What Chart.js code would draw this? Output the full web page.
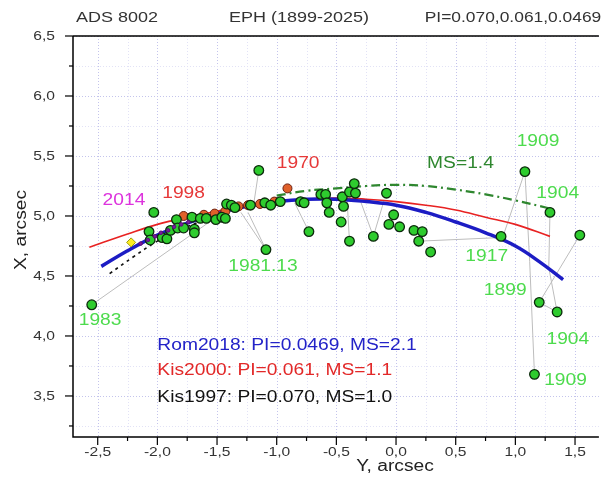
<!DOCTYPE html>
<html>
<head>
<meta charset="utf-8">
<script src="https://cdn.jsdelivr.net/npm/chart.js@4.4.1/dist/chart.umd.min.js"></script>
<style>
  html, body { margin: 0; padding: 0; background: #fff; }
</style>
</head>
<body>
<canvas id="orbitChart" width="605" height="483"></canvas>
<script>
// observed positions (Y, X in arcsec)
const obsY = [-2.55, -2.03, -2.07, -2.06, -1.96, -1.92, -1.89, -1.84, -1.83, -1.78, -1.71, -1.69, -1.69, -1.64,
  -1.59, -1.51, -1.46, -1.42, -1.38, -1.43, -1.35, -1.22, -1.10, -1.05, -0.97, -0.80, -0.77, -1.15, -1.09,
  -0.73, -0.63, -0.59, -0.58, -0.56, -0.45, -0.44, -0.39, -0.35, -0.34, -0.46, -0.39, -0.19, -0.08, -0.02,
  -0.06, 0.03, 0.15, 0.22, 0.19, 0.29, 0.88, 1.08, 1.29, 1.54, 1.20, 1.35, 1.16];
const obsX = [4.26, 5.03, 4.87, 4.80, 4.82, 4.81, 4.88, 4.97, 4.90, 4.90, 4.99, 4.89, 4.86, 4.98,
  4.98, 4.97, 4.99, 5.10, 5.09, 4.98, 5.07, 5.09, 5.11, 5.09, 5.12, 5.12, 5.11, 5.38, 4.72,
  4.87, 5.18, 5.18, 5.11, 5.03, 5.16, 5.08, 5.20, 5.27, 5.19, 4.95, 4.79, 4.83, 5.19, 5.01,
  4.93, 4.91, 4.88, 4.87, 4.79, 4.70, 4.83, 5.37, 5.03, 4.84, 4.28, 4.20, 3.68];

// red-marked measurements
const redY = [-1.78, -0.91, -1.61, -1.52, -1.43, -1.32, -1.24, -1.14, -1.02];
const redX = [5.00, 5.23, 5.01, 5.02, 5.04, 5.08, 5.09, 5.10, 5.12];

// small speckle marks and the 2014 point
const purpleY = [-2.14, -2.08, -2.02, -1.97, -1.91, -1.86, -1.80, -1.74];
const purpleX = [4.77, 4.80, 4.83, 4.86, 4.88, 4.91, 4.93, 4.95];
const yellowY = [-2.22];
const yellowX = [4.78];

// ephemeris curves
const romY = [-2.47, -2.25, -2.0, -1.75, -1.5, -1.25, -1.0, -0.75, -0.5, -0.25, 0, 0.25, 0.5, 0.75, 1.0, 1.2, 1.4];
const romX = [4.58, 4.71, 4.84, 4.94, 5.02, 5.08, 5.12, 5.14, 5.14, 5.12, 5.09, 5.03, 4.95, 4.86, 4.75, 4.62, 4.47];
const kis2000Y = [-2.57, -2.25, -2.0, -1.75, -1.5, -1.25, -1.0, -0.75, -0.5, -0.25, 0, 0.25, 0.5, 0.75, 1.0, 1.29];
const kis2000X = [4.74, 4.85, 4.93, 4.99, 5.04, 5.09, 5.12, 5.14, 5.15, 5.14, 5.12, 5.09, 5.05, 4.99, 4.93, 4.83];
const kis1997Y = [-2.40, -2.2, -2.0, -1.8, -1.6];
const kis1997X = [4.52, 4.66, 4.79, 4.89, 4.97];
const ms14Y = [-1.0, -0.75, -0.5, -0.25, 0, 0.25, 0.5, 0.75, 1.0, 1.3];
const ms14X = [5.17, 5.21, 5.23, 5.25, 5.26, 5.25, 5.22, 5.18, 5.13, 5.06];

// O-C connectors: from (y1,x1) to (y2,x2)
const linkY1 = [-2.55, -1.15, -1.09, -1.09, -0.73, -0.39, -0.19, -0.19, 0.19, 1.08, 1.08, 1.16, 1.29, 1.35, 1.54, 1.20];
const linkX1 = [4.26, 5.38, 4.72, 4.72, 4.87, 4.79, 4.83, 4.83, 4.79, 5.37, 5.37, 3.68, 5.03, 4.20, 4.84, 4.28];
const linkY2 = [-1.45, -1.20, -1.24, -1.30, -0.85, -0.41, -0.30, -0.10, 0.87, 0.90, 1.12, 1.12, 1.28, 1.28, 1.20, 1.35];
const linkX2 = [5.03, 5.05, 5.03, 5.03, 5.11, 5.13, 5.13, 5.13, 4.82, 4.84, 4.62, 4.62, 4.57, 4.57, 4.28, 4.20];

// text annotations
const noteText = ['2014', '1998', '1970', '1981.13', '1983', 'MS=1.4', '1909', '1904', '1917', '1899', '1904', '1909'];
const noteY = [-2.28, -1.78, -0.82, -1.115, -2.48, 0.54, 1.19, 1.355, 0.76, 0.915, 1.44, 1.42];
const noteX = [5.13, 5.19, 5.44, 4.58, 4.13, 5.44, 5.62, 5.19, 4.66, 4.38, 3.97, 3.63];
const noteColor = ['#dd33dd', '#e63838', '#e63838', '#4ddb4d', '#4ddb4d', '#2f872f', '#4ddb4d', '#4ddb4d',
  '#4ddb4d', '#4ddb4d', '#4ddb4d', '#4ddb4d'];

const legendText = ['Rom2018: PI=0.0469, MS=2.1', 'Kis2000: PI=0.061, MS=1.1', 'Kis1997: PI=0.070, MS=1.0'];
const legendColor = ['#2323c8', '#e22828', '#111111'];
const legendY = -2.0;
const legendX = [3.92, 3.71, 3.49];

const titleParts = ['ADS 8002', 'EPH (1899-2025)', 'PI=0.070,0.061,0.0469'];

const xTickValues = [-2.5, -2.0, -1.5, -1.0, -0.5, 0.0, 0.5, 1.0, 1.5];
const yTickValues = [3.5, 4.0, 4.5, 5.0, 5.5, 6.0, 6.5];

const STRETCH = 1.2;
const FONT = '"Liberation Sans", Arial, sans-serif';

function pairs(xs, ys) {
  return xs.map((v, i) => ({ x: v, y: ys[i] }));
}

function fmt(v) {
  return v.toFixed(1).replace('.', ',');
}

function isMajor(v) {
  return Math.abs(v * 2 - Math.round(v * 2)) < 1e-6;
}

function drawText(ctx, s, x, y, size, color, align, rot) {
  ctx.save();
  ctx.translate(x, y);
  if (rot) ctx.rotate(rot);
  ctx.scale(STRETCH, 1);
  ctx.font = size + 'px ' + FONT;
  ctx.fillStyle = color;
  ctx.textAlign = align || 'center';
  ctx.textBaseline = 'middle';
  ctx.fillText(s, 0, 0);
  ctx.restore();
}

const frame = {
  id: 'frame',
  beforeDatasetsDraw(chart) {
    const { ctx, chartArea: a, scales: { x, y } } = chart;
    ctx.save();
    ctx.lineWidth = 1;
    ctx.setLineDash([1, 2]);
    for (let v = -2.5; v <= 1.75; v += 0.25) {
      const px = Math.round(x.getPixelForValue(v)) + 0.5;
      ctx.strokeStyle = isMajor(v) ? '#c4c4ec' : '#e2e2f6';
      ctx.beginPath(); ctx.moveTo(px, a.top); ctx.lineTo(px, a.bottom); ctx.stroke();
    }
    for (let v = 3.25; v <= 6.5; v += 0.25) {
      const py = Math.round(y.getPixelForValue(v)) + 0.5;
      ctx.strokeStyle = isMajor(v) ? '#c4c4ec' : '#e2e2f6';
      ctx.beginPath(); ctx.moveTo(a.left, py); ctx.lineTo(a.right, py); ctx.stroke();
    }
    ctx.restore();
  },
  afterDraw(chart) {
    const { ctx, chartArea: a, scales: { x, y } } = chart;
    ctx.save();
    ctx.strokeStyle = '#000';
    ctx.lineWidth = 1.5;
    ctx.beginPath();
    ctx.moveTo(a.left, a.top); ctx.lineTo(a.right, a.top);
    ctx.moveTo(a.left, a.top); ctx.lineTo(a.left, a.bottom); ctx.lineTo(a.right, a.bottom);
    ctx.stroke();
    ctx.lineWidth = 1.2;
    for (let v = -2.5; v <= 1.6; v += 0.25) {
      const px = x.getPixelForValue(v);
      ctx.beginPath(); ctx.moveTo(px, a.bottom); ctx.lineTo(px, a.bottom + (isMajor(v) ? 8 : 4)); ctx.stroke();
    }
    for (let v = 3.25; v <= 6.5; v += 0.25) {
      const py = y.getPixelForValue(v);
      ctx.beginPath(); ctx.moveTo(a.left, py); ctx.lineTo(a.left - (isMajor(v) ? 8 : 4), py); ctx.stroke();
    }
    ctx.restore();

    xTickValues.forEach(v => drawText(ctx, fmt(v), x.getPixelForValue(v), a.bottom + 15, 13, '#333', 'center'));
    yTickValues.forEach(v => drawText(ctx, fmt(v), a.left - 18, y.getPixelForValue(v), 13, '#333', 'right'));
    drawText(ctx, 'Y, arcsec', 395, 467, 16, '#222', 'center');
    drawText(ctx, 'X, arcsec', 22, 230, 16, '#222', 'center', -Math.PI / 2);

    drawText(ctx, titleParts[0], 117, 18, 15, '#333', 'center');
    drawText(ctx, titleParts[1], 299, 18, 15, '#333', 'center');
    drawText(ctx, titleParts[2], 513, 18, 14.5, '#333', 'center');

    noteText.forEach((t, i) =>
      drawText(ctx, t, x.getPixelForValue(noteY[i]), y.getPixelForValue(noteX[i]), 16, noteColor[i], 'center'));
    legendText.forEach((t, i) =>
      drawText(ctx, t, x.getPixelForValue(legendY), y.getPixelForValue(legendX[i]), 16, legendColor[i], 'left'));
  }
};

const linkSets = linkY1.map((v, i) => ({
  data: [{ x: v, y: linkX1[i] }, { x: linkY2[i], y: linkX2[i] }],
  showLine: true, borderColor: '#bdbdbd', borderWidth: 1, pointRadius: 0, order: 10
}));

new Chart(document.getElementById('orbitChart'), {
  type: 'scatter',
  data: {
    datasets: [
      ...linkSets,
      { data: pairs(kis2000Y, kis2000X), showLine: true, borderColor: '#e82222', borderWidth: 1.6,
        pointRadius: 0, tension: 0.4, order: 8 },
      { data: pairs(kis1997Y, kis1997X), showLine: true, borderColor: '#111', borderWidth: 1.6,
        borderDash: [3, 4], pointRadius: 0, tension: 0.4, order: 8 },
      { data: pairs(ms14Y, ms14X), showLine: true, borderColor: '#2f872f', borderWidth: 2.2,
        borderDash: [9, 4, 2, 4], pointRadius: 0, tension: 0.4, order: 8 },
      { data: pairs(romY, romX), showLine: true, borderColor: '#1c1cc4', borderWidth: 3.5,
        pointRadius: 0, tension: 0.4, order: 7 },
      { data: pairs(redY, redX), pointRadius: 4.5, backgroundColor: '#e0602a', borderColor: '#6a2010',
        borderWidth: 1, order: 5 },
      { data: pairs(obsY, obsX), pointRadius: 4.8, backgroundColor: '#2ecc2e', borderColor: '#0c2a0c',
        borderWidth: 1.3, order: 4 },
      { data: pairs(purpleY, purpleX), pointRadius: 1.8, backgroundColor: '#7a1a9a', borderColor: '#5a0a7a',
        borderWidth: 1, order: 3 },
      { data: pairs(yellowY, yellowX), pointStyle: 'rectRot', pointRadius: 4.5, backgroundColor: '#ffee22',
        borderColor: '#9a9a10', borderWidth: 1, order: 2 }
    ]
  },
  options: {
    responsive: false,
    animation: false,
    layout: { padding: { left: 73, top: 36, right: 0, bottom: 46 } },
    plugins: { legend: { display: false }, tooltip: { enabled: false } },
    scales: {
      x: { display: false, min: -2.707, max: 1.70 },
      y: { display: false, min: 3.158, max: 6.5 }
    }
  },
  plugins: [frame]
});
</script>
</body>
</html>
